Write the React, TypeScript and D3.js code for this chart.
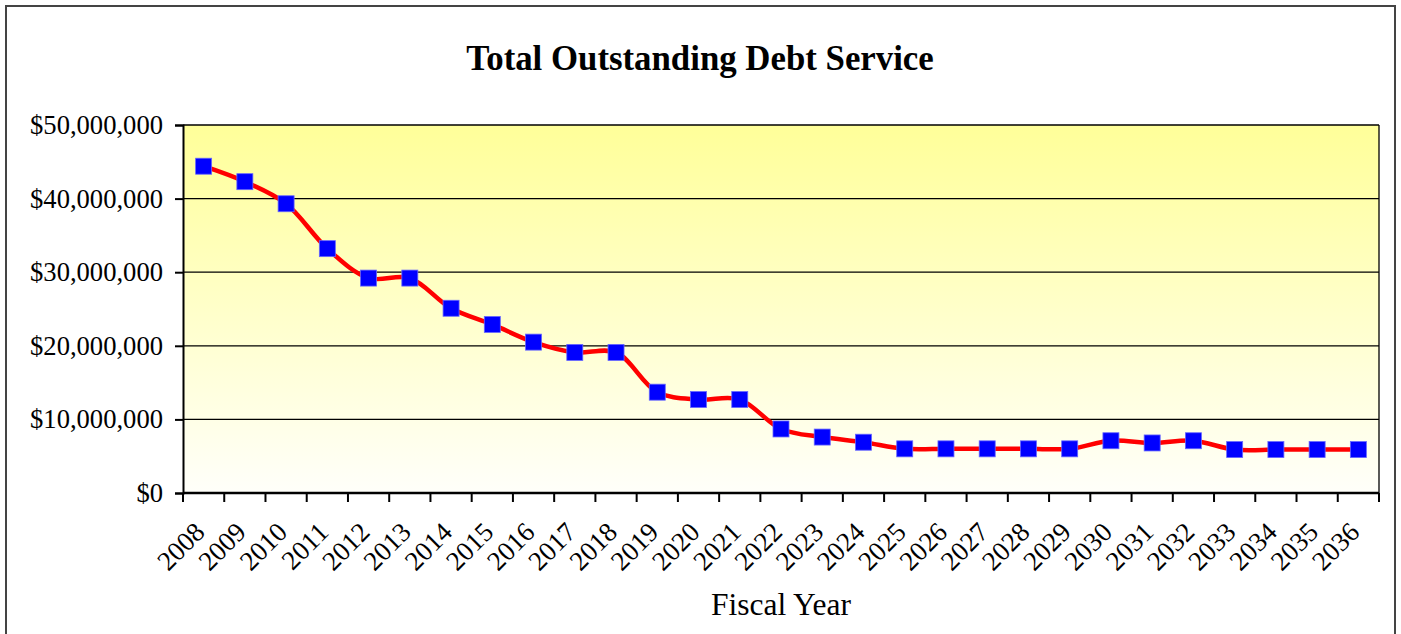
import * as d3 from 'd3'
import { useEffect, useRef } from 'react'

const years = ['2008', '2009', '2010', '2011', '2012', '2013', '2014', '2015', '2016', '2017',
  '2018', '2019', '2020', '2021', '2022', '2023', '2024', '2025', '2026', '2027',
  '2028', '2029', '2030', '2031', '2032', '2033', '2034', '2035', '2036']
const debtService = [44.4, 42.3, 39.3, 33.2, 29.2, 29.2, 25.1, 22.9, 20.5, 19.1,
  19.1, 13.7, 12.7, 12.7, 8.7, 7.6, 6.9, 6.0, 6.0, 6.0,
  6.0, 6.0, 7.1, 6.8, 7.1, 5.9, 5.9, 5.9, 5.9].map(v => v * 1e6)
const yTicks = [0, 10e6, 20e6, 30e6, 40e6, 50e6]

const W = 1401
const H = 634
const FONT = '"Liberation Serif", "Times New Roman", serif'

export default function App() {
  const ref = useRef<SVGSVGElement>(null)
  useEffect(() => {
    const svg = d3.select(ref.current)
    svg.selectAll('*').remove()
    const m = { left: 183, right: 1379, top: 125, bottom: 493 }

    const defs = svg.append('defs')
    const grad = defs.append('linearGradient').attr('id', 'bg').attr('x1', 0).attr('y1', 0).attr('x2', 0).attr('y2', 1)
    grad.append('stop').attr('offset', '0%').attr('stop-color', '#ffff99')
    grad.append('stop').attr('offset', '100%').attr('stop-color', '#fffffa')

    // outer frame
    svg.append('rect').attr('x', 6).attr('y', 6).attr('width', 1389).attr('height', H + 10)
      .attr('fill', '#fff').attr('stroke', '#444').attr('stroke-width', 2)

    const x = d3.scaleBand().domain(years).range([m.left, m.right])
    const y = d3.scaleLinear().domain([0, 50e6]).range([m.bottom, m.top])

    svg.append('rect').attr('x', m.left).attr('y', m.top).attr('width', m.right - m.left)
      .attr('height', m.bottom - m.top).attr('fill', 'url(#bg)')

    // gridlines
    svg.append('g').selectAll('line').data(yTicks.slice(1)).enter().append('line')
      .attr('x1', m.left).attr('x2', m.right).attr('y1', d => y(d)).attr('y2', d => y(d))
      .attr('stroke', '#000').attr('stroke-width', 1.3)
    svg.append('line').attr('x1', m.right).attr('x2', m.right).attr('y1', m.top).attr('y2', m.bottom)
      .attr('stroke', '#000').attr('stroke-width', 1.3)

    // y axis
    const yAxis = d3.axisLeft(y).tickValues(yTicks).tickSize(8).tickPadding(12)
      .tickFormat(d => '$' + d3.format(',')(d as number))
    const gy = svg.append('g').attr('transform', `translate(${m.left},0)`).call(yAxis)
    gy.select('.domain').attr('stroke-width', 2)
    gy.selectAll('.tick line').attr('stroke-width', 2)
    gy.selectAll('text').attr('font-family', FONT).attr('font-size', 26.6).attr('fill', '#000')

    // x axis
    const gx = svg.append('g').attr('transform', `translate(0,${m.bottom})`)
    gx.append('line').attr('x1', m.left).attr('x2', m.right).attr('stroke', '#000').attr('stroke-width', 2.5)
    const bounds = years.map(d => x(d) as number).concat([m.right])
    gx.selectAll('.tk').data(bounds).enter().append('line').attr('class', 'tk')
      .attr('x1', d => d).attr('x2', d => d).attr('y1', 0).attr('y2', 9)
      .attr('stroke', '#000').attr('stroke-width', 2)
    gx.selectAll('.lbl').data(years).enter().append('text').attr('class', 'lbl')
      .attr('transform', d => `translate(${(x(d) as number) + x.bandwidth() / 2 - 11},${27}) rotate(-45)`)
      .attr('text-anchor', 'end').attr('dy', '0.72em')
      .attr('font-family', FONT).attr('font-size', 27).text(d => d)

    // line
    const pts = years.map((d, i) => [(x(d) as number) + x.bandwidth() / 2, y(debtService[i])] as [number, number])
    const line = d3.line().curve(d3.curveCatmullRom.alpha(0.5))
    svg.append('path').attr('d', line(pts)).attr('fill', 'none').attr('stroke', '#ff0000')
      .attr('stroke-width', 4.5).attr('stroke-linejoin', 'round')
    svg.append('g').selectAll('rect').data(pts).enter().append('rect')
      .attr('x', d => d[0] - 8).attr('y', d => d[1] - 8).attr('width', 16).attr('height', 16)
      .attr('fill', '#0000ff').attr('stroke', '#6666ff').attr('stroke-width', 0.8)

    svg.append('text').attr('x', 700).attr('y', 70).attr('text-anchor', 'middle')
      .attr('font-family', FONT).attr('font-size', 34.8).attr('font-weight', 'bold').text('Total Outstanding Debt Service')
    svg.append('text').attr('x', 781).attr('y', 615).attr('text-anchor', 'middle')
      .attr('font-family', FONT).attr('font-size', 31.5).text('Fiscal Year')
  }, [])
  return (
    <svg ref={ref} width={W} height={H} style={{ position: 'absolute', left: 0, top: 0, background: '#fff' }} />
  )
}
